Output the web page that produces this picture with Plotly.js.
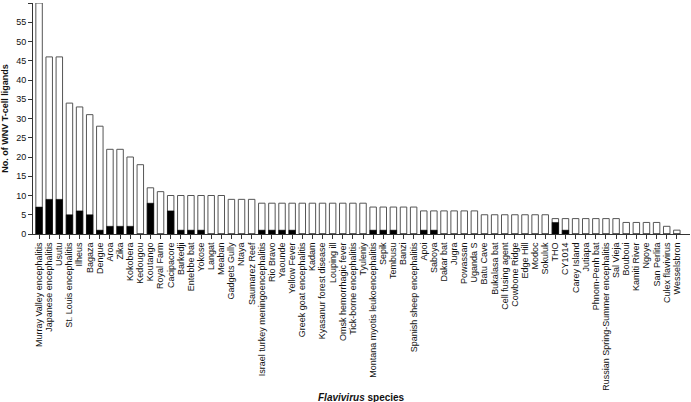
<!DOCTYPE html>
<html><head><meta charset="utf-8">
<script src="https://cdn.plot.ly/plotly-3.0.1.min.js"></script>
<style>body{margin:0;background:#fff}#c{width:691px;height:402px}</style>
</head><body><div id="c"></div>
<script>
const species = ["Murray Valley encephalitis","Japanese encephalitis","Usutu","St. Louis encephalitis","Ilheus","Bagaza","Dengue","Aroa","Zika","Kokobera","Kedougou","Koutango","Royal Farm","Cacipacore","Barkedji","Entebbe bat","Yokose","Langat","Meaban","Gadgets Gully","Ntaya","Saumarez Reef","Israel turkey meningoencephalitis","Rio Bravo","Yaounde","Yellow Fever","Greek goat encephalitis","Kadam","Kyasanur forest disease","Louping ill","Omsk hemorrhagic fever","Tick-borne encephalitis","Tyuleniy","Montana myotis leukoencephalitis","Sepik","Tembusu","Banzi","Spanish sheep encephalitis","Apoi","Saboya","Dakar bat","Jugra","Powassan","Uganda S","Batu Cave","Bukalasa bat","Cell fusing agent","Cowbone Ridge","Edge Hill","Modoc","Sokuluk","THO","CY1014","Carey Island","Jutiapa","Phnom-Penh bat","Russian Spring-Summer encephalitis","Sal Vieja","Bouboui","Kamiti River","Ngoye","San Perlita","Culex flavivirus","Wesselsbron"];
const totalLigands = [60,46,46,34,33,31,28,22,22,20,18,12,11,10,10,10,10,10,10,9,9,9,8,8,8,8,8,8,8,8,8,8,8,7,7,7,7,7,6,6,6,6,6,6,5,5,5,5,5,5,5,4,4,4,4,4,4,4,3,3,3,3,2,1];
const sharedLigands = [7,9,9,5,6,5,1,2,2,2,0,8,0,6,1,1,1,0,0,0,0,0,1,1,1,1,0,0,0,0,0,0,0,1,1,1,0,0,1,1,0,0,0,0,0,0,0,0,0,0,0,3,1,0,0,0,0,0,0,0,0,0,0,0];

const font = "Liberation Sans, Arial, sans-serif";
const traces = [
  {type:'bar', x:species, y:totalLigands, marker:{color:'#ffffff', line:{color:'#555555', width:1}}, width:0.64, hoverinfo:'skip'},
  {type:'bar', x:species, y:sharedLigands, marker:{color:'#000000', line:{color:'#000000', width:0.5}}, width:0.64, hoverinfo:'skip'}
];
const layout = {
  width:691, height:402,
  margin:{l:33, r:1, t:3, b:168},
  barmode:'overlay',
  showlegend:false,
  paper_bgcolor:'#fff', plot_bgcolor:'#fff',
  font:{family:font, size:9, color:'#111'},
  xaxis:{type:'category', range:[-0.6, 64.3], tickmode:'array', tickvals:species, ticktext:species,
    showline:true, linecolor:'#333', linewidth:1,
    ticks:'outside', ticklen:4, tickcolor:'#333', tickangle:-90, tickfont:{size:9, family:font},
    showgrid:false, zeroline:false, automargin:false},
  yaxis:{range:[0,60], dtick:5, showline:true, linecolor:'#333', linewidth:1, ticks:'outside', ticklen:4,
    tickcolor:'#333', tickfont:{size:9, family:font}, showgrid:false, zeroline:false, automargin:false,
    title:{text:'<b>No. of WNV T-cell ligands</b>', font:{size:9, family:font}, standoff:6}},
  annotations:[{text:'<b><i>Flavivirus</i> species</b>', xref:'paper', yref:'paper', x:0.5, y:0, yanchor:'middle', yshift:-163, showarrow:false, font:{size:10, family:font}}]
};
Plotly.newPlot('c', traces, layout, {staticPlot:true});
</script></body></html>
